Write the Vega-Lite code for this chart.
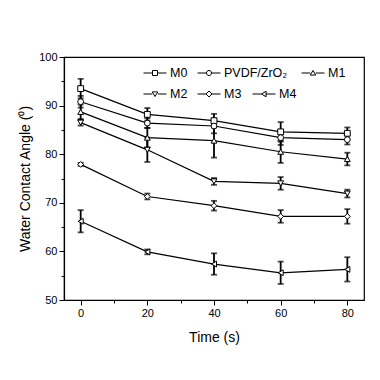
{
  "$schema": "https://vega.github.io/schema/vega-lite/v6.json",
  "width": 300,
  "height": 243,
  "autosize": {"type": "none"},
  "padding": {"left": 64, "top": 57, "right": 16, "bottom": 80},
  "background": "white",
  "config": {
    "font": "Liberation Sans",
    "view": {"stroke": "black", "strokeWidth": 1.2},
    "legend": {
      "title": null,
      "orient": "none",
      "direction": "horizontal",
      "symbolSize": 529,
      "symbolStrokeColor": "black",
      "symbolFillColor": "white",
      "symbolStrokeWidth": 1,
      "symbolOpacity": 1,
      "labelFont": "Liberation Sans",
      "labelFontSize": 12.5,
      "labelColor": "black",
      "labelOffset": 3,
      "labelLimit": 200,
      "padding": 0
    },
    "axis": {
      "grid": false,
      "domainColor": "black",
      "domainWidth": 1.2,
      "tickColor": "black",
      "tickWidth": 1,
      "labelColor": "black",
      "labelFontSize": 11,
      "labelFont": "Liberation Sans",
      "titleFont": "Liberation Sans",
      "titleFontSize": 14,
      "titleFontWeight": "normal",
      "titleColor": "black"
    }
  },
  "data": {
    "values": [
      {"series": "M0", "time": 0, "value": 93.5, "lo": 91.5, "hi": 95.5},
      {"series": "M0", "time": 20, "value": 88.2, "lo": 86.9, "hi": 89.5},
      {"series": "M0", "time": 40, "value": 86.9, "lo": 85.5, "hi": 88.3},
      {"series": "M0", "time": 60, "value": 84.6, "lo": 82.6, "hi": 86.6},
      {"series": "M0", "time": 80, "value": 84.3, "lo": 83.1, "hi": 85.5},
      {"series": "PVDF/ZrO₂", "time": 0, "value": 90.8, "lo": 89.6, "hi": 92.0},
      {"series": "PVDF/ZrO₂", "time": 20, "value": 86.4, "lo": 85.4, "hi": 87.4},
      {"series": "PVDF/ZrO₂", "time": 40, "value": 85.8, "lo": 84.3, "hi": 87.3},
      {"series": "PVDF/ZrO₂", "time": 60, "value": 83.4, "lo": 81.9, "hi": 84.9},
      {"series": "PVDF/ZrO₂", "time": 80, "value": 83.0, "lo": 82.0, "hi": 84.0},
      {"series": "M1", "time": 0, "value": 88.7, "lo": 87.2, "hi": 90.2},
      {"series": "M1", "time": 20, "value": 83.4, "lo": 81.4, "hi": 85.4},
      {"series": "M1", "time": 40, "value": 82.8, "lo": 79.3, "hi": 86.3},
      {"series": "M1", "time": 60, "value": 80.5, "lo": 78.2, "hi": 82.8},
      {"series": "M1", "time": 80, "value": 79.0, "lo": 77.7, "hi": 80.3},
      {"series": "M2", "time": 0, "value": 86.5, "lo": 85.9, "hi": 87.1},
      {"series": "M2", "time": 20, "value": 80.9, "lo": 78.4, "hi": 83.4},
      {"series": "M2", "time": 40, "value": 74.4, "lo": 73.7, "hi": 75.1},
      {"series": "M2", "time": 60, "value": 74.0, "lo": 72.7, "hi": 75.3},
      {"series": "M2", "time": 80, "value": 71.9, "lo": 71.1, "hi": 72.7},
      {"series": "M3", "time": 0, "value": 77.9, "lo": 77.6, "hi": 78.2},
      {"series": "M3", "time": 20, "value": 71.3, "lo": 70.7, "hi": 71.9},
      {"series": "M3", "time": 40, "value": 69.4, "lo": 68.4, "hi": 70.4},
      {"series": "M3", "time": 60, "value": 67.2, "lo": 65.9, "hi": 68.5},
      {"series": "M3", "time": 80, "value": 67.2, "lo": 65.7, "hi": 68.7},
      {"series": "M4", "time": 0, "value": 66.2, "lo": 63.9, "hi": 68.5},
      {"series": "M4", "time": 20, "value": 59.9, "lo": 59.4, "hi": 60.4},
      {"series": "M4", "time": 40, "value": 57.4, "lo": 55.2, "hi": 59.6},
      {"series": "M4", "time": 60, "value": 55.6, "lo": 53.3, "hi": 57.9},
      {"series": "M4", "time": 80, "value": 56.3, "lo": 53.8, "hi": 58.8}
    ]
  },
  "encoding": {
    "x": {
      "field": "time",
      "type": "quantitative",
      "title": "Time (s)",
      "scale": {"domain": [-5, 85], "nice": false, "zero": false},
      "axis": {
        "values": [0, 10, 20, 30, 40, 50, 60, 70, 80],
        "labelExpr": "datum.value % 20 === 0 ? datum.label : ''",
        "tickSize": {"condition": {"test": "datum.value % 20 === 0", "value": 5}, "value": 3},
        "labelPadding": 2,
        "titlePadding": 12
      }
    },
    "y": {
      "field": "value",
      "type": "quantitative",
      "title": "Water Contact Angle (⁰)",
      "scale": {"domain": [50, 100], "nice": false, "zero": false},
      "axis": {
        "values": [50, 55, 60, 65, 70, 75, 80, 85, 90, 95, 100],
        "labelExpr": "datum.value % 10 === 0 ? datum.label : ''",
        "tickSize": {"condition": {"test": "datum.value % 10 === 0", "value": 5}, "value": 3},
        "labelPadding": 2,
        "titlePadding": 6
      }
    }
  },
  "layer": [
    {
      "mark": {"type": "errorbar", "color": "black", "ticks": {"size": 6, "thickness": 1.8, "color": "black"}, "rule": {"strokeWidth": 1.8}},
      "encoding": {
        "y": {"field": "lo", "type": "quantitative", "title": "Water Contact Angle (⁰)"},
        "y2": {"field": "hi"},
        "detail": {"field": "series"}
      }
    },
    {
      "mark": {"type": "line", "color": "black", "strokeWidth": 1.2},
      "encoding": {"detail": {"field": "series"}}
    },
    {
      "mark": {"type": "point", "filled": false, "fill": "white", "stroke": "black", "strokeWidth": 1, "size": 34, "opacity": 1},
      "encoding": {
        "shape": {
          "field": "series",
          "type": "nominal",
          "legend": null,
          "scale": {
            "domain": ["M0", "PVDF/ZrO₂", "M1", "M2", "M3", "M4"],
            "range": ["square", "circle", "triangle-up", "triangle-down", "diamond", "triangle-left"]
          }
        }
      }
    },
    {
      "transform": [{"filter": "datum.series === 'M0'"}],
      "mark": {"type": "point", "filled": false, "color": "black", "strokeWidth": 1, "opacity": 0},
      "encoding": {
        "shape": {
          "field": "series", "type": "nominal",
          "scale": {"domain": ["M0"], "range": ["M -1 0 L -0.22 0 M 0.22 0 L 1 0 M -0.22 -0.22 L 0.22 -0.22 L 0.22 0.22 L -0.22 0.22 Z"]},
          "legend": {"legendX": 79, "legendY": 4}
        }
      }
    },
    {
      "transform": [{"filter": "datum.series === 'PVDF/ZrO₂'"}],
      "mark": {"type": "point", "filled": false, "color": "black", "strokeWidth": 1, "opacity": 0},
      "encoding": {
        "shape": {
          "field": "series", "type": "nominal",
          "scale": {"domain": ["PVDF/ZrO₂"], "range": ["M -1 0 L -0.22 0 M 0.22 0 L 1 0 M 0.22 0 A 0.22 0.22 0 1 1 -0.22 0 A 0.22 0.22 0 1 1 0.22 0 Z"]},
          "legend": {"legendX": 133, "legendY": 4}
        }
      }
    },
    {
      "transform": [{"filter": "datum.series === 'M1'"}],
      "mark": {"type": "point", "filled": false, "color": "black", "strokeWidth": 1, "opacity": 0},
      "encoding": {
        "shape": {
          "field": "series", "type": "nominal",
          "scale": {"domain": ["M1"], "range": ["M -1 0 L -0.24 0 M 0.24 0 L 1 0 M 0 -0.22 L 0.24 0.18 L -0.24 0.18 Z"]},
          "legend": {"legendX": 237, "legendY": 4}
        }
      }
    },
    {
      "transform": [{"filter": "datum.series === 'M2'"}],
      "mark": {"type": "point", "filled": false, "color": "black", "strokeWidth": 1, "opacity": 0},
      "encoding": {
        "shape": {
          "field": "series", "type": "nominal",
          "scale": {"domain": ["M2"], "range": ["M -1 0 L -0.24 0 M 0.24 0 L 1 0 M 0 0.22 L 0.24 -0.18 L -0.24 -0.18 Z"]},
          "legend": {"legendX": 79, "legendY": 25}
        }
      }
    },
    {
      "transform": [{"filter": "datum.series === 'M3'"}],
      "mark": {"type": "point", "filled": false, "color": "black", "strokeWidth": 1, "opacity": 0},
      "encoding": {
        "shape": {
          "field": "series", "type": "nominal",
          "scale": {"domain": ["M3"], "range": ["M -1 0 L -0.26 0 M 0.26 0 L 1 0 M 0 -0.26 L 0.26 0 L 0 0.26 L -0.26 0 Z"]},
          "legend": {"legendX": 133, "legendY": 25}
        }
      }
    },
    {
      "transform": [{"filter": "datum.series === 'M4'"}],
      "mark": {"type": "point", "filled": false, "color": "black", "strokeWidth": 1, "opacity": 0},
      "encoding": {
        "shape": {
          "field": "series", "type": "nominal",
          "scale": {"domain": ["M4"], "range": ["M -1 0 L -0.22 0 M 0.18 0 L 1 0 M -0.22 0 L 0.18 -0.24 L 0.18 0.24 Z"]},
          "legend": {"legendX": 188, "legendY": 25}
        }
      }
    }
  ],
  "resolve": {"scale": {"shape": "independent"}}
}
